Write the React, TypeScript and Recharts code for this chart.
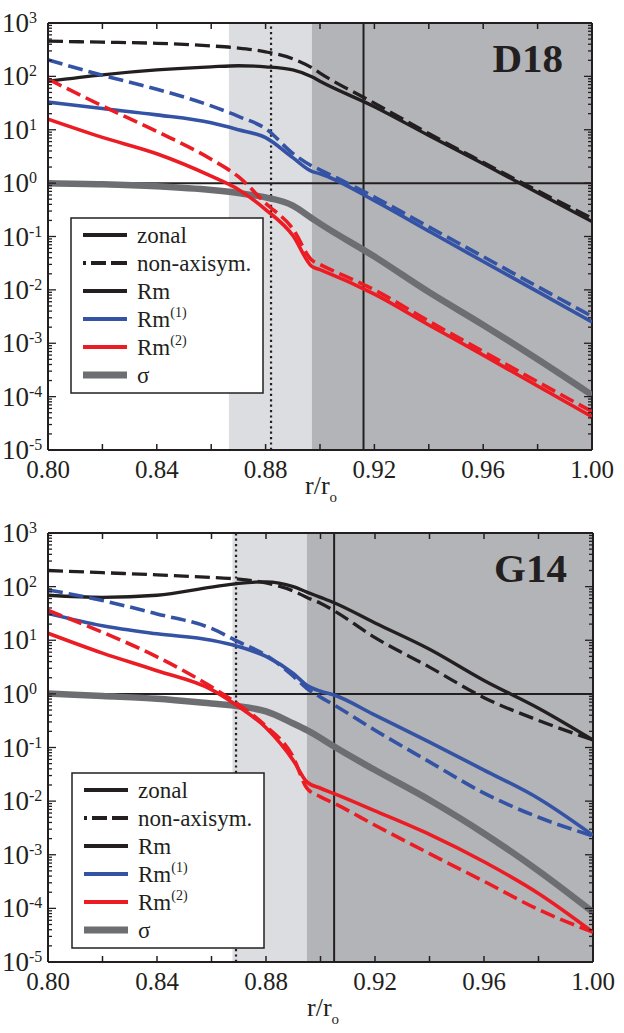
import React from 'react';
import { LineChart, Line, XAxis, YAxis, ReferenceArea, ReferenceLine } from 'recharts';

const FONT = '"Liberation Serif", "Times New Roman", serif';
const INK = '#231f20';
const BLUE = '#3553a5';
const RED = '#ec1c24';
const GRAY = '#6d6e71';
const LIGHT = '#dcdde0';
const DARK = '#b3b4b7';

// ---------- D18 panel ----------
const d18R = [0.80, 0.82, 0.84, 0.86, 0.87, 0.88, 0.89, 0.897, 0.90, 0.92, 0.94, 0.96, 0.98, 1.00];
const d18RmZonal = [81, 107, 132, 151, 158, 151, 132, 98, 81, 27, 7.8, 2.3, 0.66, 0.19];
const d18RmNonAxi = [457, 437, 417, 372, 339, 288, 214, 145, 115, 31.6, 8.5, 2.45, 0.72, 0.22];
const d18Rm1Zonal = [33, 25, 19, 13.5, 10, 7.1, 3.0, 1.66, 1.5, 0.47, 0.126, 0.034, 0.0093, 0.0025];
const d18Rm1NonAxi = [204, 105, 57.5, 28, 17.8, 10.5, 3.6, 2.1, 1.78, 0.55, 0.151, 0.042, 0.0115, 0.0032];
const d18Rm2Zonal = [15.8, 7.2, 3.55, 1.35, 0.76, 0.32, 0.105, 0.0275, 0.024, 0.0083, 0.0022, 0.0006, 0.000158, 0.000042];
const d18Rm2NonAxi = [89, 28, 9.3, 2.8, 1.32, 0.42, 0.14, 0.036, 0.03, 0.01, 0.0026, 0.0007, 0.00019, 0.0000525];
const d18Sigma = [1.0, 0.955, 0.87, 0.74, 0.65, 0.54, 0.38, 0.22, 0.174, 0.042, 0.0091, 0.0022, 0.0005, 0.000107];
const d18Shade = [0.8665, 0.897];
const d18Dotted = 0.882;
const d18Solid = 0.916;

// ---------- G14 panel ----------
const g14R = [0.80, 0.82, 0.84, 0.86, 0.87, 0.88, 0.89, 0.895, 0.90, 0.905, 0.92, 0.94, 0.96, 0.98, 1.00];
const g14RmZonal = [69, 63, 69, 98, 115, 123, 100, 79, 63, 50, 21, 6.8, 1.78, 0.54, 0.138];
const g14RmNonAxi = [200, 182, 166, 148, 138, 117, 83, 63, 49, 35.5, 11.2, 3.16, 0.85, 0.32, 0.138];
const g14Rm1Zonal = [31.6, 18.6, 13.2, 10, 7.6, 5.0, 2.4, 1.45, 1.12, 0.95, 0.4, 0.126, 0.038, 0.0112, 0.0023];
const g14Rm1NonAxi = [87, 55, 31, 16.6, 9.3, 5.25, 2.14, 1.26, 0.87, 0.62, 0.21, 0.054, 0.0141, 0.005, 0.00224];
const g14Rm2Zonal = [13.5, 5.75, 2.7, 1.2, 0.575, 0.234, 0.0575, 0.0229, 0.0174, 0.0138, 0.0066, 0.0024, 0.00074, 0.00019, 0.000036];
const g14Rm2NonAxi = [36, 14.1, 4.9, 1.35, 0.63, 0.25, 0.066, 0.0174, 0.012, 0.0091, 0.00355, 0.00105, 0.00032, 0.000095, 0.000036];
const g14Sigma = [1.02, 0.91, 0.81, 0.66, 0.59, 0.47, 0.28, 0.21, 0.15, 0.104, 0.038, 0.0105, 0.0025, 0.0005, 0.000085];
const g14Shade = [0.8677, 0.895];
const g14Dotted = 0.869;
const g14Solid = 0.905;

// ---------- axes ----------
const xTicks = [0.80, 0.82, 0.84, 0.86, 0.88, 0.90, 0.92, 0.94, 0.96, 0.98, 1.00];
const xLabelTicks = [0.80, 0.84, 0.88, 0.92, 0.96, 1.00];
const yDecades = [1e-5, 1e-4, 1e-3, 1e-2, 1e-1, 1, 10, 100, 1000];
const yMinorMultipliers = [2, 3, 4, 5, 6, 7, 8, 9];
const yTicks: number[] = [];
yDecades.forEach((d, i) => {
  yTicks.push(d);
  if (i < yDecades.length - 1) yMinorMultipliers.forEach((m) => yTicks.push(d * m));
});

// ---------- legend ----------
const legendLabels = ['zonal', 'non-axisym.', 'Rm', 'Rm', 'Rm', 'σ'];
const legendSups = ['', '', '', '(1)', '(2)', ''];

const PLOT_TOP = 23;

function buildRows(r: number[], s: number[][]) {
  return r.map((rv, i) => ({
    r: rv,
    rmZ: s[0][i],
    rmN: s[1][i],
    rm1Z: s[2][i],
    rm1N: s[3][i],
    rm2Z: s[4][i],
    rm2N: s[5][i],
    sig: s[6][i],
  }));
}

const renderXTick = (props: any) => {
  const { x, y, payload } = props;
  const v = payload.value;
  const major = xLabelTicks.some((t) => Math.abs(t - v) < 1e-6);
  return (
    <g>
      <line x1={x} y1={y} x2={x} y2={y - 6} stroke={INK} strokeWidth={1.5} />
      <line x1={x} y1={PLOT_TOP} x2={x} y2={PLOT_TOP + 6} stroke={INK} strokeWidth={1.5} />
      {major && (
        <text x={x} y={y + 28} textAnchor="middle" fontFamily={FONT} fontSize={25} fill={INK}>
          {v.toFixed(2)}
        </text>
      )}
    </g>
  );
};

const makeYTick = (plotRight: number) => (props: any) => {
  const { x, y, payload } = props;
  const v = payload.value;
  const e = Math.log10(v);
  const major = Math.abs(e - Math.round(e)) < 1e-6;
  const len = major ? 8 : 4;
  return (
    <g>
      <line x1={x} y1={y} x2={x + len} y2={y} stroke={INK} strokeWidth={1.3} />
      <line x1={plotRight - len} y1={y} x2={plotRight} y2={y} stroke={INK} strokeWidth={1.3} />
      {major && (
        <text x={x - 46} y={y + 9} textAnchor="start" fontFamily={FONT} fontSize={27} fill={INK}>
          10
          <tspan fontSize={16} dy={-9}>
            {String(Math.round(e))}
          </tspan>
        </text>
      )}
    </g>
  );
};

type PanelProps = {
  rows: any[];
  shade: number[];
  dotted: number;
  solid: number;
  height: number;
  xAxisHeight: number;
  marginRight: number;
};

function Panel({ rows, shade, dotted, solid, height, xAxisHeight, marginRight }: PanelProps) {
  const plotRight = 624 - marginRight;
  const dash = '15 6';
  return (
    <LineChart
      width={624}
      height={height}
      data={rows}
      margin={{ top: PLOT_TOP, right: marginRight, bottom: 0, left: 0 }}
    >
      <XAxis
        dataKey="r"
        type="number"
        domain={[0.8, 1.0]}
        allowDataOverflow
        ticks={xTicks}
        interval={0}
        tickSize={0}
        tickMargin={0}
        tick={renderXTick}
        height={xAxisHeight}
        axisLine={{ stroke: INK, strokeWidth: 2 }}
      />
      <YAxis
        type="number"
        scale="log"
        domain={[1e-5, 1e3]}
        allowDataOverflow
        ticks={yTicks}
        interval={0}
        tickSize={0}
        tickMargin={0}
        tick={makeYTick(plotRight)}
        width={48}
        axisLine={{ stroke: INK, strokeWidth: 2 }}
      />
      <ReferenceArea x1={shade[0]} x2={shade[1]} fill={LIGHT} fillOpacity={1} stroke="none" />
      <ReferenceArea x1={shade[1]} x2={1.0} fill={DARK} fillOpacity={1} stroke="none" />
      <ReferenceLine x={dotted} stroke={INK} strokeWidth={2.2} strokeDasharray="2.2 3.2" />
      <ReferenceLine x={solid} stroke={INK} strokeWidth={2} />
      <ReferenceLine y={1} stroke={INK} strokeWidth={2} />
      <ReferenceLine y={1000} stroke={INK} strokeWidth={2} />
      <ReferenceLine x={1.0} stroke={INK} strokeWidth={2} />
      <Line dataKey="sig" type="monotone" stroke={GRAY} strokeWidth={6.5} dot={false} isAnimationActive={false} />
      <Line dataKey="rmZ" type="monotone" stroke={INK} strokeWidth={3.3} dot={false} isAnimationActive={false} />
      <Line dataKey="rmN" type="monotone" stroke={INK} strokeWidth={3.3} strokeDasharray={dash} dot={false} isAnimationActive={false} />
      <Line dataKey="rm1Z" type="monotone" stroke={BLUE} strokeWidth={3.6} dot={false} isAnimationActive={false} />
      <Line dataKey="rm1N" type="monotone" stroke={BLUE} strokeWidth={3.6} strokeDasharray={dash} dot={false} isAnimationActive={false} />
      <Line dataKey="rm2Z" type="monotone" stroke={RED} strokeWidth={3.6} dot={false} isAnimationActive={false} />
      <Line dataKey="rm2N" type="monotone" stroke={RED} strokeWidth={3.6} strokeDasharray={dash} dot={false} isAnimationActive={false} />
    </LineChart>
  );
}

function LegendBox({ x, y }: { x: number; y: number }) {
  const sampleColors = [INK, INK, INK, BLUE, RED, GRAY];
  const sampleWidths = [4, 4, 4, 4, 4, 7];
  return (
    <g>
      <rect x={x} y={y} width={192} height={175} fill="#fff" stroke={INK} strokeWidth={1.5} />
      {legendLabels.map((lab, i) => {
        const cy = y + 17 + 28 * i;
        return (
          <g key={i}>
            <line
              x1={x + 12}
              y1={cy}
              x2={x + 56}
              y2={cy}
              stroke={sampleColors[i]}
              strokeWidth={sampleWidths[i]}
              strokeDasharray={i === 1 ? '3 5 15 5 16' : undefined}
            />
            <text x={x + 66} y={cy + 8} fontFamily={FONT} fontSize={23} fill={INK}>
              {lab}
              {legendSups[i] && (
                <tspan fontSize={14} dy={-10}>
                  {legendSups[i]}
                </tspan>
              )}
            </text>
          </g>
        );
      })}
    </g>
  );
}

function XLabel({ x, y }: { x: number; y: number }) {
  return (
    <text x={x} y={y} fontFamily={FONT} fontSize={26} fill={INK}>
      r/r
      <tspan fontSize={15} dy={8}>
        o
      </tspan>
    </text>
  );
}

const d18Rows = buildRows(d18R, [d18RmZonal, d18RmNonAxi, d18Rm1Zonal, d18Rm1NonAxi, d18Rm2Zonal, d18Rm2NonAxi, d18Sigma]);
const g14Rows = buildRows(g14R, [g14RmZonal, g14RmNonAxi, g14Rm1Zonal, g14Rm1NonAxi, g14Rm2Zonal, g14Rm2NonAxi, g14Sigma]);

export default function App() {
  return (
    <div style={{ position: 'absolute', left: 0, top: 0, width: 624, height: 1033, background: '#fff' }}>
      <div style={{ position: 'absolute', left: 0, top: 0 }}>
        <Panel rows={d18Rows} shade={d18Shade} dotted={d18Dotted} solid={d18Solid} height={510} xAxisHeight={60} marginRight={32} />
      </div>
      <div style={{ position: 'absolute', left: 0, top: 510 }}>
        <Panel rows={g14Rows} shade={g14Shade} dotted={g14Dotted} solid={g14Solid} height={523} xAxisHeight={71} marginRight={31} />
      </div>
      <svg
        width={624}
        height={1033}
        style={{ position: 'absolute', left: 0, top: 0, pointerEvents: 'none' }}
      >
        <LegendBox x={71} y={218} />
        <LegendBox x={72} y={773} />
        <text x={563} y={72} textAnchor="end" fontFamily={FONT} fontSize={41} fontWeight="bold" fill={INK}>
          D18
        </text>
        <text x={567} y={582} textAnchor="end" fontFamily={FONT} fontSize={41} fontWeight="bold" fill={INK}>
          G14
        </text>
        <XLabel x={305} y={494} />
        <XLabel x={307} y={1016} />
      </svg>
    </div>
  );
}
